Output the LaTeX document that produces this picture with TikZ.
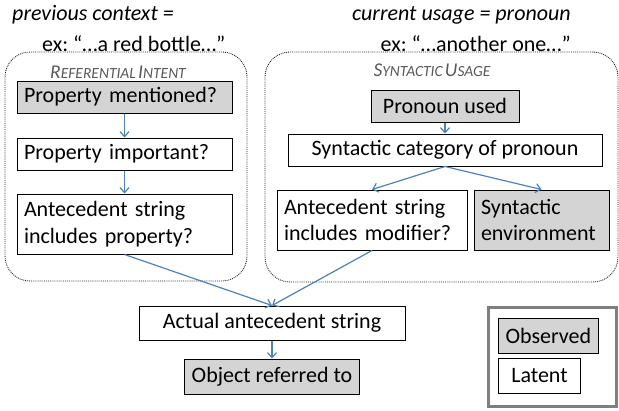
\documentclass[tikz,border=0pt]{standalone}
\usepackage{fontspec}
\setmainfont{Carlito}
\usetikzlibrary{positioning,arrows.meta}
\frenchspacing

\definecolor{obsgray}{HTML}{D4D4D4}
\definecolor{flowblue}{HTML}{4F81BD}
\definecolor{labelgray}{HTML}{595959}
\definecolor{keygray}{HTML}{7F7F7F}
\newcommand{\bigfont}{\fontsize{22}{26.5}\selectfont}
\newcommand{\fakesc}[2]{{\fontsize{19.5}{22}\selectfont #1}{\fontsize{15.5}{18}\selectfont #2}}

\begin{document}
\begin{tikzpicture}[
    x=1pt, y=-1pt,
    font=\bigfont,
    boxnode/.style={draw=black, line width=1pt, inner xsep=7pt, inner ysep=0pt, minimum height=32pt, align=left},
    obsnode/.style={boxnode, fill=obsgray},
    latnode/.style={boxnode, fill=white},
    groupnode/.style={draw=black!85, densely dotted, line width=0.9pt, rounded corners=25pt, inner sep=0pt},
    grouplabel/.style={font=\itshape, text=labelgray, inner sep=0pt},
    toptext/.style={font=\bigfont\itshape, inner sep=0pt},
    flow/.style={->, >={Straight Barb[length=5pt,width=9pt]}, draw=flowblue, line width=1.2pt}
    ]
        \useasboundingbox (0,0) rectangle (619,410);

        %Context texts
        \node[toptext, anchor=west] (prevctx) at (12,15)  {previous context =};
        \node[toptext, anchor=west, font=\bigfont] (prevex) at (42,44) {ex: “…a red bottle…”};
        \node[toptext, anchor=east] (curctx) at (571,15) {current usage = pronoun};
        \node[toptext, anchor=east, font=\bigfont] (curex) at (571,44) {ex: “…another one…”};

        %Groups
        \node[groupnode, minimum width=242pt, minimum height=229pt] 
            (refgrp) at (126,166.5) {};
        \node[groupnode, minimum width=353pt, minimum height=230pt] 
            (syngrp) at (441.5,167) {};
        \node[grouplabel] (reflabel) at (118,72) {\fakesc{R}{EFERENTIAL} \fakesc{I}{NTENT}};
        \node[grouplabel] (synlabel) at (432,70) {\fakesc{S}{YNTACTIC} \fakesc{U}{SAGE}};

        %Nodes
        \node[obsnode, text width=201pt] 
            (propm) at (124.5,97)       {Property mentioned?};
        \node[latnode, text width=201pt] 
            (propi) [below=24pt of propm] {Property important?};
        \node[latnode, text width=201pt, minimum height=60pt] 
            (antp)  [below=23pt of propi] {Antecedent string\\includes property?};

        \node[latnode, minimum width=314pt, align=center] 
            (syncat) at (445,150)       {Syntactic category of pronoun};
        \node[obsnode, minimum width=148pt] 
            (pron)  [above=11pt of syncat] {Pronoun used};
        \node[latnode, text width=176pt, minimum height=60pt] 
            (antm)  at (372,220)        {Antecedent string\\includes modifier?};
        \node[obsnode, text width=121pt, minimum height=60pt] 
            (synenv) [right=6pt of antm] {Syntactic\\environment};

        \node[latnode, minimum width=266pt, minimum height=34pt, align=center] 
            (act)   at (272,323)        {Actual antecedent string};
        \node[obsnode, minimum height=35pt] 
            (obj)   [below=18pt of act] {Object referred to};

        %Key
        \node[draw=keygray, line width=3.5pt, minimum width=128pt, minimum height=99pt] 
            (legend) at (552.5,357)     {};
        \node[obsnode, minimum height=35pt, anchor=west] 
            (legobs) at (498,335.5)     {Observed};
        \node[latnode, minimum height=35pt, minimum width=82pt, anchor=west] 
            (leglat) at (498,375.5)     {Latent};

        %Lines
        \draw[flow] (propm) -- (propi);
        \draw[flow] (propi) -- (antp);
        \draw[flow] (pron) -- (syncat);
        \draw[flow] (syncat.south) -- (antm.north);
        \draw[flow] (syncat.south) -- (synenv.north);
        \draw[flow] (antp.south) -- (act.north);
        \draw[flow] (antm.south) -- (act.north);
        \draw[flow] (act) -- (obj);
\end{tikzpicture}
\end{document}
